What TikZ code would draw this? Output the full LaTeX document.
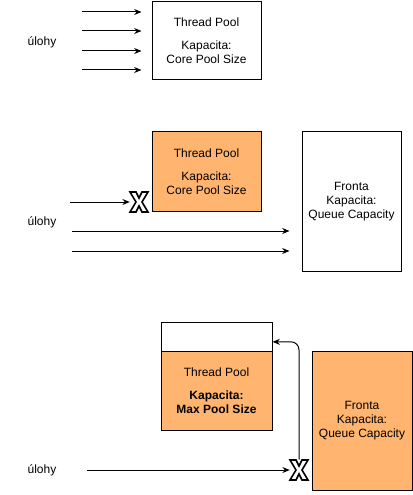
\documentclass[tikz,border=0pt]{standalone}
\usepackage{fontspec}
\setmainfont{Liberation Sans}
\usetikzlibrary{arrows.meta}

\definecolor{poolorange}{HTML}{FFB570}

\tikzset{
  box/.style={draw, line width=0.75pt, inner sep=0pt, align=center},
  task/.style={-{Stealth[length=5.5pt,width=4.5pt]}, line width=0.75pt},
  xmark/.style={inner sep=0pt, minimum width=13.5pt, minimum height=15pt},
}

\begin{document}
\begin{tikzpicture}[x=0.75pt, y=-0.75pt, font=\fontsize{9}{10.5}\selectfont]
\useasboundingbox (0,0) rectangle (413,495);
% Case 1: free threads in the pool
\node[box, minimum width=81.75pt, minimum height=58.5pt] (tp1) at (206.5,41)
  {Thread Pool\\[7pt]Kapacita:\\Core Pool Size};
\node (u1) at (42,42) {úlohy};
\foreach \y in {12,31,51,70}
  \draw[task] (82,\y) -- ([xshift=-7.5pt]tp1.west |- 0,\y); % incoming task
% Case 2: pool full, tasks go to the queue
\node[box, fill=poolorange, minimum width=81.75pt, minimum height=59.25pt] (tp2) at (206.5,171.5)
  {Thread Pool\\[7pt]Kapacita:\\Core Pool Size};
\node[box, minimum width=74.25pt, minimum height=104.25pt] (q2) at (351.5,201.5)
  {Fronta\\Kapacita:\\Queue Capacity};
\node[xmark] (x2) at (139,202) {};
\node (u2) at (42,222) {úlohy};
\draw[task] (70,202) -- (x2.west); % rejected by the pool
\foreach \y in {231,251}
  \draw[task] (72,\y) -- ([xshift=-9pt]q2.west |- 0,\y); % into the queue
% Case 3: queue full, pool grows up to max size
\node[box, minimum width=83.25pt, minimum height=21.75pt] (tp3top) at (216.5,336.5) {};
\node[box, fill=poolorange, minimum width=83.25pt, minimum height=59.25pt] (tp3) at (216.5,390.5)
  {Thread Pool\\[7pt]\textbf{Kapacita:}\\\textbf{Max Pool Size}};
\node[box, fill=poolorange, minimum width=75pt, minimum height=104.25pt] (q3) at (362,420.5)
  {Fronta\\Kapacita:\\Queue Capacity};
\node[xmark] (x3) at (299,470) {};
\node (u3) at (42,470) {úlohy};
\draw[task] (87,470) -- (x3.west); % rejected by the queue
\draw[task, rounded corners=6pt] (x3.north) |- ([yshift=-4pt]tp3top.east); % new thread
% the crossed marks
\foreach \n in {x2,x3}
  \draw[fill=white, line width=1.2pt, line join=miter]
    ([shift={(-9,-10)}]\n.center) -- ([shift={(-3,-10)}]\n.center) -- ([shift={(0,-4)}]\n.center)
    -- ([shift={(3,-10)}]\n.center) -- ([shift={(9,-10)}]\n.center) -- ([shift={(3,0)}]\n.center)
    -- ([shift={(9,10)}]\n.center) -- ([shift={(3,10)}]\n.center) -- ([shift={(0,4)}]\n.center)
    -- ([shift={(-3,10)}]\n.center) -- ([shift={(-9,10)}]\n.center) -- ([shift={(-3,0)}]\n.center) -- cycle;
\end{tikzpicture}
\end{document}
